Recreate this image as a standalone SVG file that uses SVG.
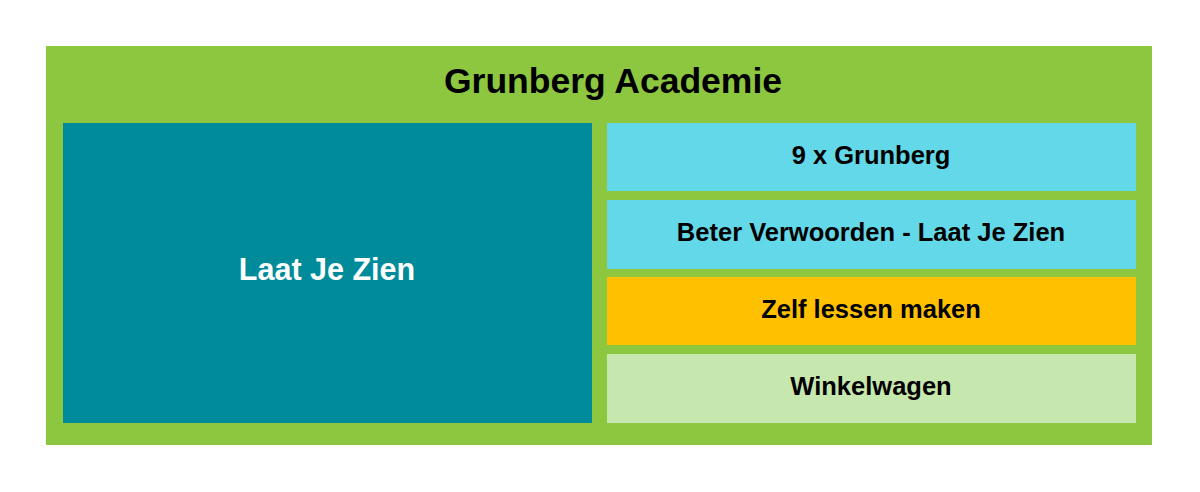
<svg xmlns="http://www.w3.org/2000/svg" width="1200" height="492" viewBox="0 0 1200 492">
<style>
text{font-family:"Liberation Sans",Arial,sans-serif;font-weight:bold;text-anchor:middle;dominant-baseline:central}
.t{font-size:25.5px;fill:#000}
</style>
<rect width="1200" height="492" fill="#ffffff"/>
<g id="outer">
<rect x="46" y="46" width="1106" height="399" fill="#8dc63f"/>
<text x="613" y="81" style="font-size:35.5px" fill="#000">Grunberg Academie</text>
</g>
<g id="laat-je-zien">
<rect x="63" y="123" width="529" height="300" fill="#008b9b"/>
<text x="327" y="269" style="font-size:30.5px" fill="#fff">Laat Je Zien</text>
</g>
<g id="grunberg9">
<rect x="607" y="123" width="529" height="68" fill="#62d8e8"/>
<text class="t" x="871" y="155">9 x Grunberg</text>
</g>
<g id="beter">
<rect x="607" y="200" width="529" height="69" fill="#62d8e8"/>
<text class="t" x="871" y="232">Beter Verwoorden - Laat Je Zien</text>
</g>
<g id="zelf">
<rect x="607" y="277" width="529" height="68" fill="#ffc000"/>
<text class="t" x="871" y="309">Zelf lessen maken</text>
</g>
<g id="winkel">
<rect x="607" y="354" width="529" height="69" fill="#c6e8ae"/>
<text class="t" x="871" y="386">Winkelwagen</text>
</g>
<g id="connectors"/>
</svg>
